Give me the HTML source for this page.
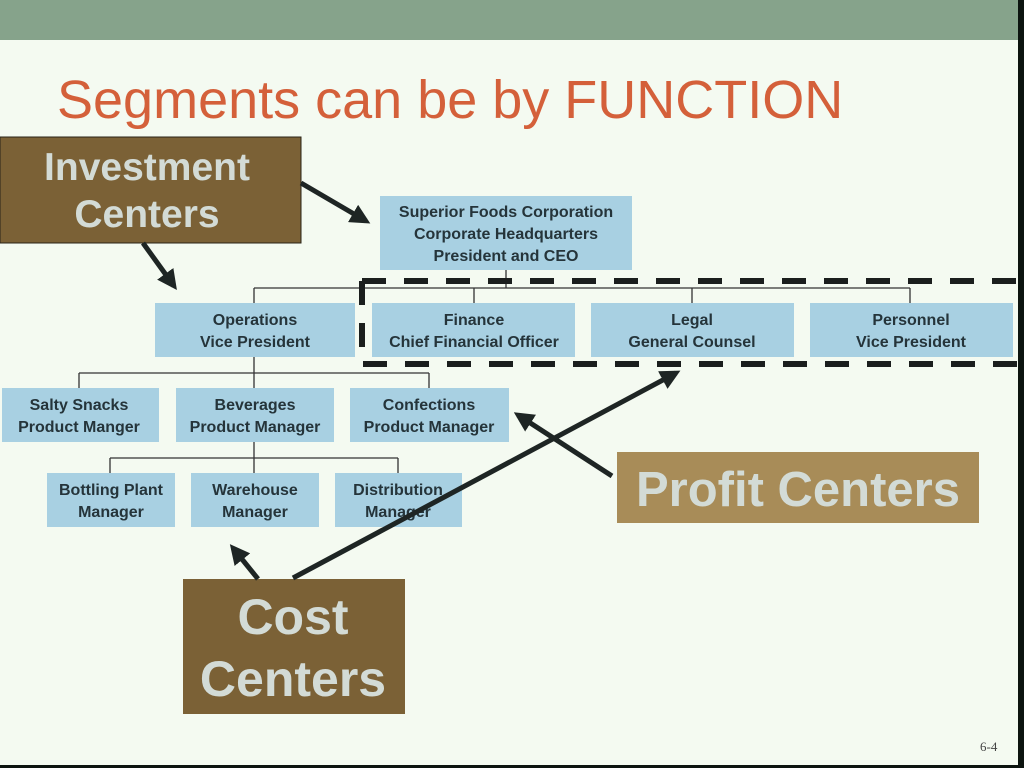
<!DOCTYPE html>
<html><head><meta charset="utf-8"><style>
html,body{margin:0;padding:0;width:1024px;height:768px;overflow:hidden;background:#f4faf1}
svg{display:block}
</style></head><body>
<svg width="1024" height="768" viewBox="0 0 1024 768" xmlns="http://www.w3.org/2000/svg" font-family="Liberation Sans, Arial, sans-serif">
<defs>
<marker id="ah" markerWidth="4" markerHeight="4" refX="3" refY="2" orient="auto" markerUnits="strokeWidth">
<path d="M0,0 L4,2 L0,4 z" fill="#1e2524"/>
</marker>
</defs>
<rect width="1024" height="768" fill="#f4faf1"/>
<rect x="0" y="0" width="1018" height="40" fill="#86a38b"/>
<rect x="1018" y="0" width="6" height="768" fill="#0c140f"/>
<rect x="0" y="765" width="1024" height="3" fill="#0c140f"/>
<text x="57" y="118" font-size="54" fill="#d4603a">Segments can be by FUNCTION</text>

<g stroke="#333" stroke-width="1.3" fill="none">
<path d="M506 270V288M254 288H910M254 288V303M474 288V303M692 288V303M910 288V303"/>
<path d="M254 357V373M79 373H429M79 373V388M254 373V388M429 373V388"/>
<path d="M254 442V458M110 458H398M110 458V473M254 458V473M398 458V473"/>
</g>

<g fill="#a8d0e2">
<rect x="380" y="196" width="252" height="74"/>
<rect x="155" y="303" width="200" height="54"/>
<rect x="372" y="303" width="203" height="54"/>
<rect x="591" y="303" width="203" height="54"/>
<rect x="810" y="303" width="203" height="54"/>
<rect x="2" y="388" width="157" height="54"/>
<rect x="176" y="388" width="158" height="54"/>
<rect x="350" y="388" width="159" height="54"/>
<rect x="47" y="473" width="128" height="54"/>
<rect x="191" y="473" width="128" height="54"/>
<rect x="335" y="473" width="127" height="54"/>
</g>

<g font-size="16" font-weight="bold" fill="#25343a" text-anchor="middle">
<text x="506" y="217">Superior Foods Corporation</text>
<text x="506" y="239">Corporate Headquarters</text>
<text x="506" y="261">President and CEO</text>
<text x="255" y="325">Operations</text><text x="255" y="347">Vice President</text>
<text x="474" y="325">Finance</text><text x="474" y="347">Chief Financial Officer</text>
<text x="692" y="325">Legal</text><text x="692" y="347">General Counsel</text>
<text x="911" y="325">Personnel</text><text x="911" y="347">Vice President</text>
<text x="79" y="410">Salty Snacks</text><text x="79" y="432">Product Manger</text>
<text x="255" y="410">Beverages</text><text x="255" y="432">Product Manager</text>
<text x="429" y="410">Confections</text><text x="429" y="432">Product Manager</text>
<text x="111" y="495">Bottling Plant</text><text x="111" y="517">Manager</text>
<text x="255" y="495">Warehouse</text><text x="255" y="517">Manager</text>
<text x="398" y="495">Distribution</text><text x="398" y="517">Manager</text>
</g>

<path d="M362 281H1030M362 281V364H1030" stroke="#1a1e1d" stroke-width="6" fill="none" stroke-dasharray="24,18"/>

<rect x="0" y="137" width="301" height="106" fill="#7b6136" stroke="#2a2418" stroke-width="1"/>
<g font-weight="bold" fill="#d3dbd6" text-anchor="middle" font-size="39">
<text x="147" y="180">Investment</text>
<text x="147" y="227">Centers</text>
</g>
<rect x="617" y="452" width="362" height="71" fill="#a88c58"/>
<text x="798" y="506" font-size="49" font-weight="bold" fill="#d3dbd6" text-anchor="middle">Profit Centers</text>
<rect x="183" y="579" width="222" height="135" fill="#7b6136"/>
<g font-weight="bold" fill="#d3dbd6" text-anchor="middle" font-size="50">
<text x="293" y="634">Cost</text>
<text x="293" y="696">Centers</text>
</g>

<g stroke="#1e2524" stroke-width="5" fill="none" marker-end="url(#ah)">
<line x1="301" y1="183" x2="366" y2="221"/>
<line x1="143" y1="243" x2="174" y2="286"/>
<line x1="612" y1="476" x2="518" y2="415"/>
<line x1="258" y1="579" x2="233" y2="548"/>
<line x1="293" y1="578" x2="676" y2="373"/>
</g>

<text x="980" y="751" font-size="13" font-family="Liberation Serif, serif" fill="#444">6-4</text>
</svg>
</body></html>
